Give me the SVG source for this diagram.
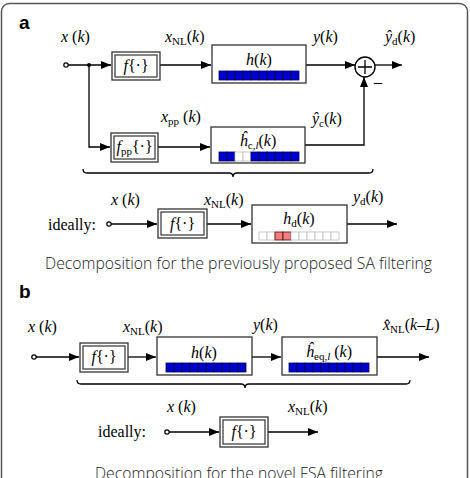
<svg xmlns="http://www.w3.org/2000/svg" width="470" height="478" viewBox="0 0 470 478">
<defs>
<marker id="ar" markerWidth="10" markerHeight="8" refX="10" refY="4" orient="auto" markerUnits="userSpaceOnUse"><path d="M0,0 L10,4 L0,8 z" fill="#000"/></marker>
</defs>
<style>
.m{font-family:"Liberation Serif",serif;font-size:16px;fill:#000}
.i{font-style:italic}
.s{font-size:11px;font-style:normal}
.ln{stroke:#000;stroke-width:1.3;fill:none}
.box{fill:#fff;stroke:#333;stroke-width:1.3}
.in{fill:none;stroke:#333;stroke-width:1.2}
.cb{fill:#0000cc;stroke:#000055;stroke-width:0.8}
.ce{fill:#fff;stroke:#bbb;stroke-width:0.8}
.cp{fill:#f08080;stroke:#500;stroke-width:0.8}
.pt{fill:#fff;stroke:#000;stroke-width:1.2}
.lab{font-family:"Liberation Sans",Arial,sans-serif;font-weight:bold;font-size:19px;fill:#000}
.cap{font-family:"Open Sans","Noto Sans",sans-serif;font-weight:300;font-size:16px;fill:#222}
</style>
<rect x="1.5" y="3.5" width="466" height="490" rx="8" fill="#fff" stroke="#555" stroke-width="1.5"/>
<text class="lab" x="19" y="29">a</text>
<text class="lab" x="19" y="298">b</text>

<g id="connectors">
<!-- panel a -->
<path class="ln" d="M68,65 H111" marker-end="url(#ar)"/>
<circle cx="89" cy="65" r="2" fill="#000"/>
<path class="ln" d="M160,65 H211" marker-end="url(#ar)"/>
<path class="ln" d="M306,65 H355" marker-end="url(#ar)"/>
<path class="ln" d="M375,65 H402" marker-end="url(#ar)"/>
<path class="ln" d="M89,65 V147 H110" marker-end="url(#ar)"/>
<path class="ln" d="M158,147 H210" marker-end="url(#ar)"/>
<path class="ln" d="M305,145 H364 V77" marker-end="url(#ar)"/>
<path class="ln" d="M83,169 Q83,173 87,173 H229 Q233,173 233,177 Q233,173 237,173 H369 Q373,173 373,169"/>
<path class="ln" d="M111,224 H157" marker-end="url(#ar)"/>
<path class="ln" d="M207,224 H251" marker-end="url(#ar)"/>
<path class="ln" d="M347,224 H397" marker-end="url(#ar)"/>
<!-- panel b -->
<path class="ln" d="M36,357 H79" marker-end="url(#ar)"/>
<path class="ln" d="M128,357 H156" marker-end="url(#ar)"/>
<path class="ln" d="M252,357 H281" marker-end="url(#ar)"/>
<path class="ln" d="M377,357 H429" marker-end="url(#ar)"/>
<path class="ln" d="M77,380 Q77,384 81,384 H241 Q245,384 245,388 Q245,384 249,384 H406 Q410,384 410,380"/>
<path class="ln" d="M169,432 H219" marker-end="url(#ar)"/>
<path class="ln" d="M268,432 H318" marker-end="url(#ar)"/>
</g>

<!-- panel a nodes -->
<g id="in-a"><circle class="pt" cx="66" cy="65" r="2.2"/></g>
<g id="f-a">
<rect class="box" x="112" y="52" width="48" height="28"/>
<rect class="in" x="115" y="55" width="42" height="22"/>
<text class="m" x="136" y="71" text-anchor="middle" font-size="15"><tspan class="i">f</tspan>{·}</text>
</g>
<g id="h-a">
<rect class="box" x="212" y="45" width="94" height="38"/>
<text class="m" x="259" y="65" text-anchor="middle" font-size="18"><tspan class="i">h</tspan>(<tspan class="i">k</tspan>)</text>
<g transform="translate(219,71)">
<rect class="cb" x="0" y="0" width="8" height="9"/><rect class="cb" x="8" y="0" width="8" height="9"/><rect class="cb" x="16" y="0" width="8" height="9"/><rect class="cb" x="24" y="0" width="8" height="9"/><rect class="cb" x="32" y="0" width="8" height="9"/><rect class="cb" x="40" y="0" width="8" height="9"/><rect class="cb" x="48" y="0" width="8" height="9"/><rect class="cb" x="56" y="0" width="8" height="9"/><rect class="cb" x="64" y="0" width="8" height="9"/><rect class="cb" x="72" y="0" width="8" height="9"/>
</g>
</g>
<g id="sum">
<circle cx="365" cy="67" r="10" fill="#fff" stroke="#000" stroke-width="1.4"/>
<path class="ln" d="M358,67 H372 M365,60 V74"/>
<text x="378" y="87" font-family="Liberation Sans,sans-serif" font-size="15" text-anchor="middle">–</text>
</g>
<g id="fpp-a">
<rect class="box" x="111" y="133" width="47" height="29"/>
<rect class="in" x="114" y="136" width="41" height="23"/>
<text class="m" x="134.5" y="152" text-anchor="middle" font-size="15"><tspan class="i">f</tspan><tspan class="s" dy="3">pp</tspan><tspan dy="-3">{·}</tspan></text>
</g>
<g id="hc-a">
<rect class="box" x="211" y="127" width="94" height="36"/>
<text class="m" x="258" y="146" text-anchor="middle" font-size="18"><tspan class="i">ĥ</tspan><tspan class="s" dy="3">c,<tspan class="i">l</tspan></tspan><tspan dy="-3">(</tspan><tspan class="i">k</tspan>)</text>
<g transform="translate(219,152)">
<rect class="cb" x="0" y="0" width="8" height="9"/><rect class="cb" x="8" y="0" width="8" height="9"/><rect class="ce" x="16" y="0" width="8" height="9"/><rect class="ce" x="24" y="0" width="8" height="9"/><rect class="cb" x="32" y="0" width="8" height="9"/><rect class="cb" x="40" y="0" width="8" height="9"/><rect class="cb" x="48" y="0" width="8" height="9"/><rect class="cb" x="56" y="0" width="8" height="9"/><rect class="cb" x="64" y="0" width="8" height="9"/><rect class="cb" x="72" y="0" width="8" height="9"/>
</g>
</g>
<g id="labels-a">
<text class="m" x="61" y="42"><tspan class="i">x</tspan> (<tspan class="i">k</tspan>)</text>
<text class="m" x="165" y="42"><tspan class="i">x</tspan><tspan class="s" dy="3">NL</tspan><tspan dy="-3">(</tspan><tspan class="i">k</tspan>)</text>
<text class="m" x="313" y="42"><tspan class="i">y</tspan>(<tspan class="i">k</tspan>)</text>
<text class="m" x="385" y="42"><tspan class="i">ŷ</tspan><tspan class="s" dy="3">d</tspan><tspan dy="-3">(</tspan><tspan class="i">k</tspan>)</text>
<text class="m" x="161" y="122"><tspan class="i">x</tspan><tspan class="s" dy="3">pp</tspan><tspan dy="-3"> (</tspan><tspan class="i">k</tspan>)</text>
<text class="m" x="312" y="124"><tspan class="i">ŷ</tspan><tspan class="s" dy="3">c</tspan><tspan dy="-3">(</tspan><tspan class="i">k</tspan>)</text>
</g>
<g id="ideal-a">
<text class="m" x="48" y="230">ideally:</text>
<circle class="pt" cx="109" cy="224" r="2.2"/>
<text class="m" x="111" y="205"><tspan class="i">x</tspan> (<tspan class="i">k</tspan>)</text>
<text class="m" x="204" y="205"><tspan class="i">x</tspan><tspan class="s" dy="3">NL</tspan><tspan dy="-3">(</tspan><tspan class="i">k</tspan>)</text>
<text class="m" x="353" y="202"><tspan class="i">y</tspan><tspan class="s" dy="3">d</tspan><tspan dy="-3">(</tspan><tspan class="i">k</tspan>)</text>
</g>
<g id="f-ideal-a">
<rect class="box" x="158" y="209" width="49" height="29"/>
<rect class="in" x="161" y="212" width="43" height="23"/>
<text class="m" x="182.5" y="229" text-anchor="middle" font-size="15"><tspan class="i">f</tspan>{·}</text>
</g>
<g id="hd-a">
<rect class="box" x="252" y="205" width="95" height="38"/>
<text class="m" x="299" y="224" text-anchor="middle" font-size="18"><tspan class="i">h</tspan><tspan class="s" dy="3">d</tspan><tspan dy="-3">(</tspan><tspan class="i">k</tspan>)</text>
<g transform="translate(259,232)">
<rect class="ce" x="0" y="0" width="8" height="8"/><rect class="ce" x="8" y="0" width="8" height="8"/><rect class="cp" x="16" y="0" width="8" height="8"/><rect class="cp" x="24" y="0" width="8" height="8"/><rect class="ce" x="32" y="0" width="8" height="8"/><rect class="ce" x="40" y="0" width="8" height="8"/><rect class="ce" x="48" y="0" width="8" height="8"/><rect class="ce" x="56" y="0" width="8" height="8"/><rect class="ce" x="64" y="0" width="8" height="8"/><rect class="ce" x="72" y="0" width="8" height="8"/>
</g>
</g>
<text class="cap" x="238.5" y="269" text-anchor="middle" textLength="387" lengthAdjust="spacingAndGlyphs">Decomposition for the previously proposed SA filtering</text>

<!-- panel b nodes -->
<g id="in-b"><circle class="pt" cx="34" cy="357" r="2.2"/></g>
<g id="f-b">
<rect class="box" x="80" y="343" width="48" height="29"/>
<rect class="in" x="83" y="346" width="42" height="23"/>
<text class="m" x="104" y="362" text-anchor="middle" font-size="15"><tspan class="i">f</tspan>{·}</text>
</g>
<g id="h-b">
<rect class="box" x="157" y="337" width="95" height="38"/>
<text class="m" x="204" y="358" text-anchor="middle" font-size="18"><tspan class="i">h</tspan>(<tspan class="i">k</tspan>)</text>
<g transform="translate(166,363)">
<rect class="cb" x="0" y="0" width="8" height="9"/><rect class="cb" x="8" y="0" width="8" height="9"/><rect class="cb" x="16" y="0" width="8" height="9"/><rect class="cb" x="24" y="0" width="8" height="9"/><rect class="cb" x="32" y="0" width="8" height="9"/><rect class="cb" x="40" y="0" width="8" height="9"/><rect class="cb" x="48" y="0" width="8" height="9"/><rect class="cb" x="56" y="0" width="8" height="9"/><rect class="cb" x="64" y="0" width="8" height="9"/><rect class="cb" x="72" y="0" width="8" height="9"/>
</g>
</g>
<g id="heq-b">
<rect class="box" x="282" y="337" width="95" height="38"/>
<text class="m" x="329" y="357" text-anchor="middle" font-size="18"><tspan class="i">ĥ</tspan><tspan class="s" dy="3">eq,<tspan class="i">l</tspan></tspan><tspan dy="-3"> (</tspan><tspan class="i">k</tspan>)</text>
<g transform="translate(289,363)">
<rect class="cb" x="0" y="0" width="8" height="9"/><rect class="cb" x="8" y="0" width="8" height="9"/><rect class="cb" x="16" y="0" width="8" height="9"/><rect class="cb" x="24" y="0" width="8" height="9"/><rect class="cb" x="32" y="0" width="8" height="9"/><rect class="cb" x="40" y="0" width="8" height="9"/><rect class="cb" x="48" y="0" width="8" height="9"/><rect class="cb" x="56" y="0" width="8" height="9"/><rect class="cb" x="64" y="0" width="8" height="9"/><rect class="cb" x="72" y="0" width="8" height="9"/>
</g>
</g>
<g id="labels-b">
<text class="m" x="28" y="332"><tspan class="i">x</tspan> (<tspan class="i">k</tspan>)</text>
<text class="m" x="123" y="332"><tspan class="i">x</tspan><tspan class="s" dy="3">NL</tspan><tspan dy="-3">(</tspan><tspan class="i">k</tspan>)</text>
<text class="m" x="253" y="330"><tspan class="i">y</tspan>(<tspan class="i">k</tspan>)</text>
<text class="m" x="383" y="330"><tspan class="i">x̂</tspan><tspan class="s" dy="3">NL</tspan><tspan dy="-3">(</tspan><tspan class="i">k</tspan>–<tspan class="i">L</tspan>)</text>
</g>
<g id="ideal-b">
<text class="m" x="98" y="437">ideally:</text>
<circle class="pt" cx="167" cy="432" r="2.2"/>
<text class="m" x="167" y="412"><tspan class="i">x</tspan> (<tspan class="i">k</tspan>)</text>
<text class="m" x="288" y="412"><tspan class="i">x</tspan><tspan class="s" dy="3">NL</tspan><tspan dy="-3">(</tspan><tspan class="i">k</tspan>)</text>
</g>
<g id="f-ideal-b">
<rect class="box" x="220" y="417" width="48" height="30"/>
<rect class="in" x="223" y="420" width="42" height="24"/>
<text class="m" x="244" y="437" text-anchor="middle" font-size="15"><tspan class="i">f</tspan>{·}</text>
</g>
<text class="cap" x="239" y="479" text-anchor="middle" textLength="288" lengthAdjust="spacingAndGlyphs">Decomposition for the novel FSA filtering</text>
</svg>
